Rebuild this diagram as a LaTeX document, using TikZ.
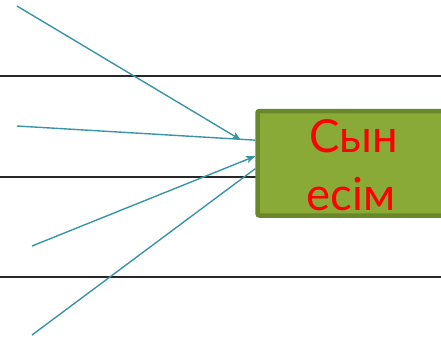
\documentclass[tikz,border=0pt]{standalone}
\usepackage{fontspec}
\setmainfont{Lato}
\usetikzlibrary{arrows.meta,calc}
\definecolor{arrowteal}{RGB}{58,148,168}
\definecolor{boxfill}{RGB}{138,170,56}
\definecolor{boxedge}{RGB}{106,136,42}
\definecolor{rule}{RGB}{40,40,40}
\tikzset{
  ruleline/.style={draw=rule,line width=1.8bp},
  feeder/.style={draw=arrowteal,line width=1.4bp},
  feedertip/.style={feeder,-{Stealth[length=9bp,width=7bp,inset=2bp]}},
  termbox/.style={rectangle,draw=boxedge,fill=boxfill,line width=4.5bp,rounded corners=2bp,
    minimum width=202.5bp,minimum height=104.5bp,inner sep=0pt},
  word/.style={text=red,font=\fontsize{45.5bp}{58bp}\selectfont,inner sep=0pt,anchor=base}
}
\begin{document}
\begin{tikzpicture}[x=1bp,y=-1bp]
\useasboundingbox (0,0) rectangle (441,338);
% horizontal rules
\coordinate (r1l) at (0,76);   \coordinate (r1r) at (441,76);
\coordinate (r2l) at (0,177);  \coordinate (r2r) at (441,177);
\coordinate (r3l) at (0,277);  \coordinate (r3r) at (441,277);
\draw[ruleline] (r1l) -- (r1r);
\draw[ruleline] (r2l) -- (r2r);
\draw[ruleline] (r3l) -- (r3r);
% arrow starts
\coordinate (s1) at (17,6);
\coordinate (s2) at (17,126);
\coordinate (s3) at (32,246);
\coordinate (s4) at (32,335);
\coordinate (m1) at (241,140);
% box
\node[termbox] (box) at (358.75,163.25) {};
\draw[feedertip] (s1) -- (m1);
\draw[feeder] (s2) -- ($(box.north west)!0.288!(box.south west)$);
\draw[feedertip] (s3) -- ($(box.north west)!0.435!(box.south west)$);
\draw[feeder] (s4) -- ($(box.north west)!0.55!(box.south west)$);
\node[word] (w1) at (353.5,152) {Сын};
\node[word] (w2) at (351,210) {есім};
\end{tikzpicture}
\end{document}
